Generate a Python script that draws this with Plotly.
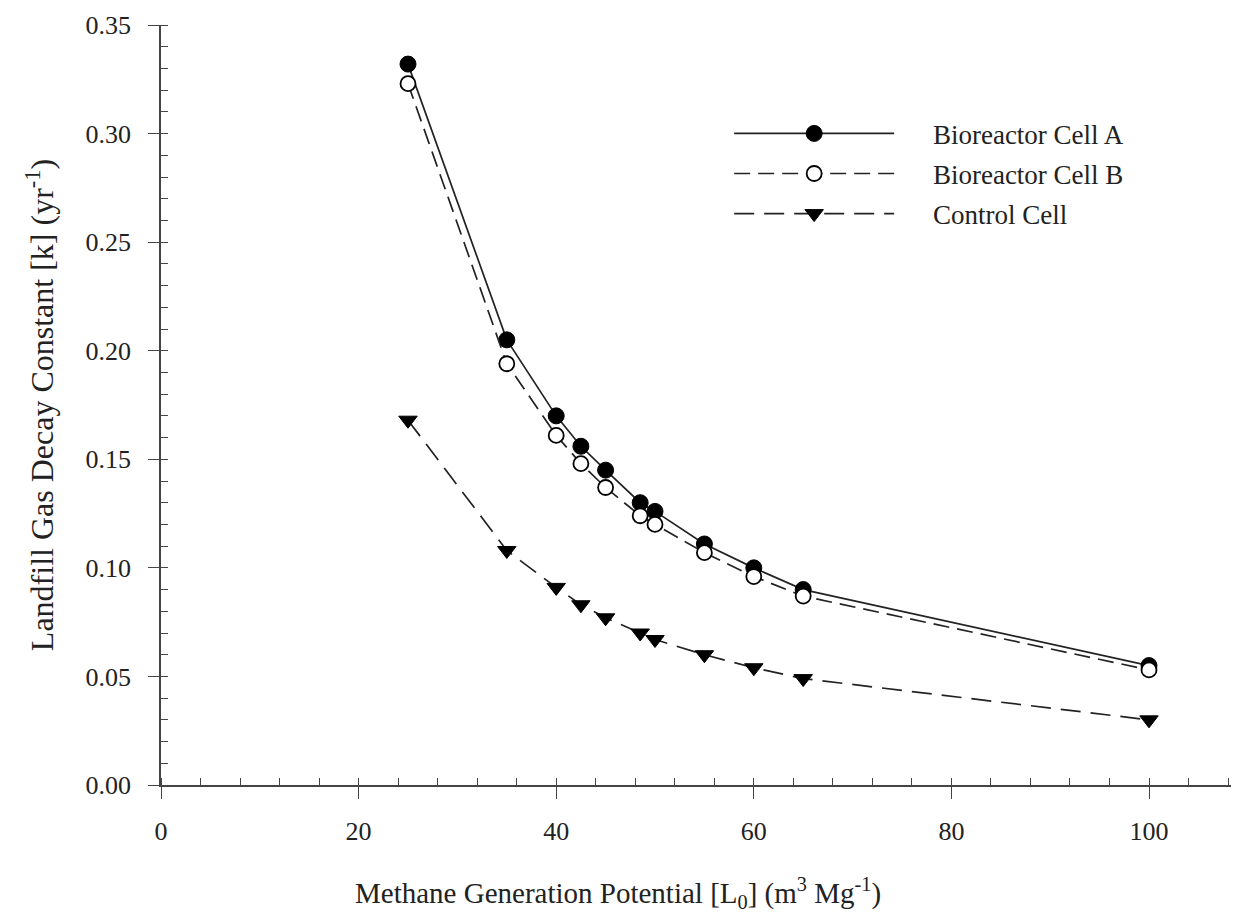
import plotly.graph_objects as go

lo = [25, 35, 40, 42.5, 45, 48.5, 50, 55, 60, 65, 100]
cell_a = [0.332, 0.205, 0.170, 0.156, 0.145, 0.130, 0.126, 0.111, 0.100, 0.090, 0.055]
cell_b = [0.323, 0.194, 0.161, 0.148, 0.137, 0.124, 0.120, 0.107, 0.096, 0.087, 0.053]
control = [0.168, 0.108, 0.091, 0.083, 0.077, 0.070, 0.067, 0.060, 0.054, 0.049, 0.030]

x_ticks = [0, 20, 40, 60, 80, 100]
y_ticks = [0.00, 0.05, 0.10, 0.15, 0.20, 0.25, 0.30, 0.35]

names = ["Bioreactor Cell A", "Bioreactor Cell B", "Control Cell"]
x_title = "Methane Generation Potential [L<sub>0</sub>] (m<sup>3</sup> Mg<sup>-1</sup>)"
y_title = "Landfill Gas Decay Constant [k] (yr<sup>-1</sup>)"

FONT = "Liberation Serif"
INK = "#222222"
PAD = "\u00a0" * 5

fig = go.Figure()
fig.add_trace(go.Scatter(
    x=lo, y=cell_a, name=PAD + names[0], mode="lines+markers", legendgroup="a",
    line=dict(color=INK, width=1.7),
    marker=dict(symbol="circle", size=16, color="black", line=dict(color="black", width=1))))
fig.add_trace(go.Scatter(
    x=lo, y=cell_b, name=PAD + names[1], mode="lines+markers", legendgroup="b",
    line=dict(color=INK, width=1.7, dash="16px,8px"),
    marker=dict(symbol="circle", size=15, color="white", line=dict(color="black", width=1.8))))
fig.add_trace(go.Scatter(
    x=lo, y=control, name=PAD + names[2], mode="lines+markers", legendgroup="c",
    line=dict(color=INK, width=1.7, dash="20px,10px"),
    marker=dict(symbol="triangle-down", size=16, color="black", line=dict(color="black", width=1))))

fig.update_layout(
    width=1233, height=921,
    paper_bgcolor="white", plot_bgcolor="white",
    margin=dict(l=161, r=2, t=25, b=136),
    font=dict(family=FONT, size=26, color=INK),
    showlegend=True,
    legend=dict(x=0.531, y=0.889, xanchor="left", yanchor="top",
                bgcolor="rgba(0,0,0,0)", font=dict(family=FONT, size=27, color=INK),
                itemwidth=160, tracegroupgap=2),
    annotations=[dict(text=x_title, xref="paper", yref="paper", x=0.427, y=-0.142,
                      xanchor="center", yanchor="middle", showarrow=False,
                      font=dict(family=FONT, size=29, color=INK))],
)
fig.update_xaxes(
    range=[0, 108.3], tickvals=x_ticks, ticktext=[str(v) for v in x_ticks],
    showgrid=False, zeroline=False, showline=True, linecolor="#444", linewidth=1.5,
    ticks="outside", ticklen=12, tickwidth=1.3, tickcolor="#444",
    minor=dict(dtick=4, ticks="inside", ticklen=7, tickwidth=1.2, tickcolor="#444", showgrid=False),
    tickfont=dict(family=FONT, size=26, color=INK), ticklabelstandoff=10,
)
fig.update_yaxes(
    range=[0, 0.35], tickvals=y_ticks, ticktext=[f"{v:.2f}" for v in y_ticks],
    showgrid=False, zeroline=False, showline=True, linecolor="#444", linewidth=1.5,
    ticks="outside", ticklen=11, tickwidth=1.3, tickcolor="#444",
    minor=dict(dtick=0.01, ticks="inside", ticklen=7, tickwidth=1.2, tickcolor="#444", showgrid=False),
    tickfont=dict(family=FONT, size=26, color=INK), ticklabelstandoff=12,
    title=dict(text=y_title, font=dict(family=FONT, size=32, color=INK), standoff=22),
)

fig.write_html("out.html")
